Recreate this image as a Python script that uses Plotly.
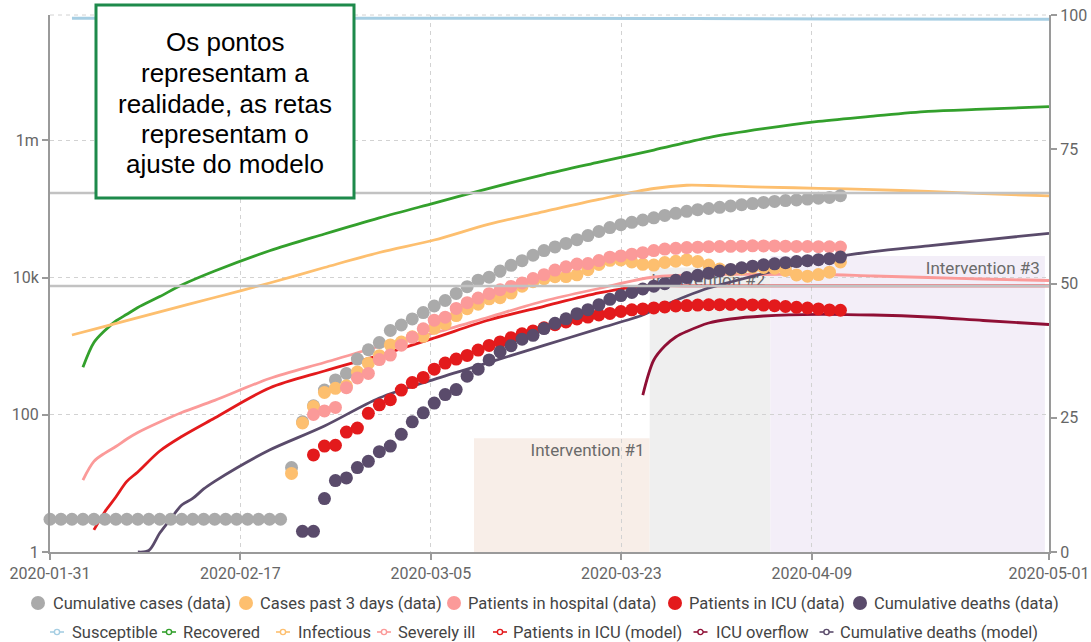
import pandas as pd
import plotly.graph_objects as go

# ---------------------------------------------------------------------------
# Time frame and axis ranges
# ---------------------------------------------------------------------------
X_START = pd.Timestamp("2020-01-31")
X_END = pd.Timestamp("2020-05-01")
LOG_TOP = 7.828          # log10 of the top of the left axis

# x tick labels (evenly spaced ticks, labelled with their calendar day)
tick_days = [0, 17.35, 34.7, 52.05, 69.4, 91]
tick_labels = ["2020-01-31", "2020-02-17", "2020-03-05", "2020-03-23", "2020-04-09", "2020-05-01"]

# ---------------------------------------------------------------------------
# Observed data (daily)
# ---------------------------------------------------------------------------
cases_start = "2020-01-31"
cumulative_cases = [
    3, 3, 3, 3, 3, 3, 3, 3, 3, 3, 3, 3, 3, 3, 3, 3, 3, 3, 3, 3, 3, 3,
    17, 79, 135, 229, 322, 400, 650, 888, 1128, 1694, 2036, 2502, 3089, 3858,
    4636, 5883, 7375, 9172, 10149, 12462, 15113, 17660, 21157, 24747, 27980,
    31506, 35713, 41035, 47021, 53578, 59138, 63927, 69176, 74386, 80539,
    86498, 92472, 97689, 101739, 105792, 110574, 115242, 119827, 124632,
    128948, 132547, 135586, 139422, 143626, 147577, 156363,
]

recent_start = "2020-02-22"
cases_past_3_days = [
    14, 76, 132, 212, 243, 265, 421, 566, 728, 1044, 1148, 1374, 1395, 1822,
    2134, 2794, 3517, 4100, 4900, 5087, 5941, 7511, 8695, 9634, 10320, 10349,
    10966, 13055, 15515, 17865, 18103, 16906, 15598, 15248, 16612, 17322,
    18086, 17150, 15241, 13320, 12885, 13503, 14035, 14058, 13706, 12720,
    10954, 10474, 11079, 11991, 16941,
]

hospital_start = "2020-02-24"
hospital_patients = [
    101, 114, 128, 248, 345, 401, 639, 742, 1034, 1346, 1790, 2394, 2651, 3557,
    4316, 5038, 5838, 6650, 7426, 8372, 9663, 11025, 12894, 14363, 15757,
    16020, 17708, 19846, 20692, 21937, 23112, 24753, 26029, 26676, 27386,
    27795, 28192, 28403, 28540, 28741, 29010, 28949, 28976, 28718, 28485,
    28399, 28242, 28144, 27847,
]

icu_start = "2020-02-24"
icu_patients = [
    26, 35, 36, 56, 64, 105, 140, 166, 229, 295, 351, 462, 567, 650, 733, 877,
    1028, 1153, 1328, 1518, 1672, 1851, 2060, 2257, 2498, 2655, 2857, 3009,
    3204, 3396, 3489, 3612, 3732, 3856, 3906, 3981, 4023, 4035, 4053, 4068,
    3994, 3977, 3898, 3792, 3693, 3605, 3497, 3381, 3343,
]

deaths_start = "2020-02-23"
cumulative_deaths = [
    2, 2, 6, 11, 12, 17, 21, 29, 35, 52, 79, 107, 148, 197, 233, 366, 463, 631,
    827, 1016, 1266, 1441, 1809, 2158, 2503, 2978, 3405, 4032, 4825, 5476,
    6077, 6820, 7503, 8165, 9134, 10023, 10779, 11591, 12428, 13155, 13915,
    14681, 15362, 15887, 16523, 17127, 17669, 18279, 18849, 19899,
]

# ---------------------------------------------------------------------------
# Model trajectories (day offsets from 2020-01-31)
# ---------------------------------------------------------------------------
susceptible_days = [2, 40, 55, 65, 75, 91]
susceptible = [60.4e6, 60.3e6, 60.0e6, 59.4e6, 58.9e6, 58.3e6]

recovered_days = [3, 4, 5, 6, 7, 8, 10, 12, 15, 20, 25, 30, 35, 40, 45, 50, 55, 60, 65, 70, 75, 80, 85, 91]
recovered = [492, 1130, 1694, 2330, 2920, 3660, 5290, 7800, 12480, 24600, 43200, 74200, 122000,
             200000, 317000, 481000, 724000, 1100000, 1480000, 1890000, 2260000, 2650000,
             2850000, 3100000]

infectious_days = [2, 5, 10, 15, 20, 25, 30, 35, 40, 45, 50, 55, 58, 60, 62, 65, 70, 75, 80, 85, 91]
infectious = [1456, 1944, 3172, 5129, 8340, 14030, 23220, 35320, 60250, 91600, 138000, 199000,
              222000, 220000, 215000, 209000, 200000, 192000, 180000, 168000, 155000]

severe_days = [3, 4, 5, 6, 7, 8, 10, 12, 15, 20, 25, 30, 35, 40, 45, 50, 55, 60, 65, 70, 75, 80, 85, 91]
severe = [11.2, 20.9, 27.7, 34.5, 44.4, 55.2, 78.5, 108, 162, 338, 578, 990, 1557, 2666, 4560,
          6935, 10200, 11100, 11100, 11100, 10550, 10030, 9540, 9075]

icu_model_days = [4, 5, 6, 7, 8, 10, 12, 15, 20, 25, 30, 35, 40, 45, 50, 52, 53, 54, 60, 70, 80, 91]
icu_model = [2.1, 3.87, 6.34, 10.7, 14.7, 29.7, 48.3, 89.8, 246, 435, 737, 1318, 2410, 3818,
             5965, 6820, 7200, 7550, 7550, 7550, 7550, 7550]

overflow_days = [54, 55, 56, 57, 58, 60, 62, 65, 70, 75, 80, 85, 91]
icu_overflow = [194, 629, 1007, 1362, 1638, 2178, 2493, 2755, 2917, 2850, 2666, 2370, 2071]

deaths_model_days = [8, 9, 10, 11, 12, 13, 14, 15, 17, 20, 25, 30, 35, 40, 45, 50, 54, 55, 58,
                     60, 62, 65, 70, 75, 80, 85, 91]
deaths_model = [1.0, 1.05, 1.89, 3.05, 4.84, 6.03, 8.3, 10.7, 16.8, 30.7, 68.7, 176, 329, 581,
                1028, 1806, 2850, 3373, 5395, 7050, 8630, 11480, 18360, 23870, 28970, 35230,
                44250]

# Capacity reference lines
hospital_beds = 171000
icu_beds = 7550

# Interventions: period and mitigation strength (right axis, %)
intervention_names = ["Intervention #1", "Intervention #2", "Intervention #3"]
intervention_starts = ["2020-03-09 15:00", "2020-03-25 15:00", "2020-04-05 15:00"]
intervention_ends = ["2020-03-25 15:00", "2020-04-05 15:00", "2020-04-30 15:00"]
intervention_strength = [21.2, 53.0, 55.1]
intervention_colors = ["#f8eee8", "#efefef", "#f3eef8"]

# ---------------------------------------------------------------------------
# Styling
# ---------------------------------------------------------------------------
C_GRAY, C_ORANGE, C_PINK, C_RED, C_DARK = "#aaaaaa", "#fdbf6f", "#fb9a99", "#e31a1c", "#5a4b6b"
C_BLUE, C_GREEN, C_OVERFLOW = "#a6cee3", "#33a02c", "#8f0f35"
AXIS_COLOR, TICK_TEXT, GRID = "#9a9a9a", "#666666", "#d2d2d2"
FONT = "Roboto, sans-serif"

W, H = 1091, 642
M_L, M_R, M_T, M_B = 50, 42, 15, 90
PW, PH = W - M_L - M_R, H - M_T - M_B


def at_day(days):
    return [X_START + pd.to_timedelta(d, unit="D") for d in days]


def daily(start, values):
    return pd.date_range(start, periods=len(values), freq="D")


def px_x(px):
    return (px - M_L) / PW


def px_y(py):
    return (H - M_B - py) / PH


fig = go.Figure()

# Intervention labels go first so every other mark is drawn over them
label_x = [pd.Timestamp(e) - pd.Timedelta(hours=11) for e in intervention_ends]
label_y = [10 ** (LOG_TOP * (s - 2.6) / 100) for s in intervention_strength]
fig.add_trace(go.Scatter(
    x=label_x, y=label_y, mode="text", text=intervention_names,
    textposition="middle left", textfont=dict(family=FONT, size=17, color="#6a6a6a"),
    hoverinfo="skip", showlegend=False,
))

# Model curves
model_lines = [
    ("Susceptible", susceptible_days, susceptible, C_BLUE, 3),
    ("Recovered", recovered_days, recovered, C_GREEN, 2.8),
    ("Infectious", infectious_days, infectious, C_ORANGE, 2.8),
    ("Severely ill", severe_days, severe, C_PINK, 2.8),
    ("Patients in ICU (model)", icu_model_days, icu_model, C_RED, 2.8),
    ("ICU overflow", overflow_days, icu_overflow, C_OVERFLOW, 2.8),
    ("Cumulative deaths (model)", deaths_model_days, deaths_model, C_DARK, 2.8),
]
for name, days, vals, color, width in model_lines:
    fig.add_trace(go.Scatter(
        x=at_day(days), y=vals, mode="lines", name=name,
        line=dict(color=color, width=width, shape="spline", smoothing=0.9),
        showlegend=False,
    ))

# Observed points
observed = [
    ("Cumulative cases (data)", cases_start, cumulative_cases, C_GRAY),
    ("Cases past 3 days (data)", recent_start, cases_past_3_days, C_ORANGE),
    ("Patients in hospital (data)", hospital_start, hospital_patients, C_PINK),
    ("Patients in ICU (data)", icu_start, icu_patients, C_RED),
    ("Cumulative deaths (data)", deaths_start, cumulative_deaths, C_DARK),
]
for name, start, vals, color in observed:
    fig.add_trace(go.Scatter(
        x=daily(start, vals), y=vals, mode="markers", name=name,
        marker=dict(color=color, size=13, line=dict(width=0)),
        cliponaxis=False, showlegend=False,
    ))

# Capacity lines across the whole period
for cap in (hospital_beds, icu_beds):
    fig.add_trace(go.Scatter(
        x=[X_START, X_END], y=[cap, cap], mode="lines",
        line=dict(color="#c2c2c2", width=2.6), hoverinfo="skip", showlegend=False,
    ))

# Anchor trace for the right-hand axis
fig.add_trace(go.Scatter(x=[None], y=[None], yaxis="y2", showlegend=False, hoverinfo="skip"))

shapes = []
for s, e, h, c in zip(intervention_starts, intervention_ends, intervention_strength, intervention_colors):
    shapes.append(dict(type="rect", xref="x", yref="y2", x0=s, x1=e, y0=0, y1=h,
                       fillcolor=c, line=dict(width=0), layer="below"))
# dashed top border of the grid
shapes.append(dict(type="line", xref="paper", yref="paper", x0=0, x1=1, y0=1, y1=1,
                   line=dict(color=GRID, width=1, dash="4px,4px"), layer="below"))

# Note box
shapes.append(dict(type="rect", xref="paper", yref="paper",
                   x0=px_x(96), x1=px_x(354), y0=px_y(198), y1=px_y(5),
                   fillcolor="white", line=dict(color="#1d8a4b", width=3), layer="above"))

annotations = []
note_lines = ["Os pontos", "representam a", "realidade, as retas", "representam o", "ajuste do modelo"]
note_y = [42, 73, 103.5, 134, 164.5]
for txt, yy in zip(note_lines, note_y):
    annotations.append(dict(text=txt, xref="paper", yref="paper", x=px_x(225), y=px_y(yy),
                            xanchor="center", yanchor="middle", showarrow=False,
                            font=dict(family="Liberation Sans, Arial, sans-serif", size=26, color="#000000")))

# Legend, two rows: observed points, then model curves
LEG_FONT = dict(family=FONT, size=16.5, color="#444444")
row1 = [("Cumulative cases (data)", C_GRAY, 38, 51),
        ("Cases past 3 days (data)", C_ORANGE, 246, 258),
        ("Patients in hospital (data)", C_PINK, 454, 466),
        ("Patients in ICU (data)", C_RED, 675, 687),
        ("Cumulative deaths (data)", C_DARK, 860, 872)]
row2 = [("Susceptible", C_BLUE, 57, 70),
        ("Recovered", C_GREEN, 169, 181),
        ("Infectious", C_ORANGE, 283, 296),
        ("Severely ill", C_PINK, 384, 396),
        ("Patients in ICU (model)", C_RED, 500, 511),
        ("ICU overflow", C_OVERFLOW, 700.5, 714),
        ("Cumulative deaths (model)", C_DARK, 826.5, 838)]
ROW1_Y, ROW2_Y = 603, 632

for txt, color, cx, tx in row1:
    shapes.append(dict(type="circle", xref="paper", yref="paper", xsizemode="pixel", ysizemode="pixel",
                       xanchor=px_x(cx), yanchor=px_y(ROW1_Y), x0=-7, x1=7, y0=-7, y1=7,
                       fillcolor=color, line=dict(width=0), layer="above"))
    annotations.append(dict(text=txt, xref="paper", yref="paper", x=px_x(tx), y=px_y(ROW1_Y),
                            xanchor="left", yanchor="middle", showarrow=False, font=LEG_FONT))

for txt, color, cx, tx in row2:
    shapes.append(dict(type="line", xref="paper", yref="paper", xsizemode="pixel", ysizemode="pixel",
                       xanchor=px_x(cx), yanchor=px_y(ROW2_Y), x0=-7, x1=7, y0=0, y1=0,
                       line=dict(color=color, width=1.6), layer="above"))
    shapes.append(dict(type="circle", xref="paper", yref="paper", xsizemode="pixel", ysizemode="pixel",
                       xanchor=px_x(cx), yanchor=px_y(ROW2_Y), x0=-2.6, x1=2.6, y0=-2.6, y1=2.6,
                       fillcolor="white", line=dict(color=color, width=1.4), layer="above"))
    annotations.append(dict(text=txt, xref="paper", yref="paper", x=px_x(tx), y=px_y(ROW2_Y),
                            xanchor="left", yanchor="middle", showarrow=False, font=LEG_FONT))

axis_common = dict(
    showline=True, linecolor=AXIS_COLOR, linewidth=2,
    ticks="outside", ticklen=6, tickwidth=1.5, tickcolor=AXIS_COLOR,
    tickfont=dict(family=FONT, size=16, color=TICK_TEXT),
    zeroline=False,
)

fig.update_layout(
    width=W, height=H,
    margin=dict(l=M_L, r=M_R, t=M_T, b=M_B, autoexpand=False),
    paper_bgcolor="white", plot_bgcolor="white",
    showlegend=False,
    hovermode=False,
    font=dict(family=FONT, color=TICK_TEXT),
    xaxis=dict(type="date", range=[X_START, X_END],
               tickvals=at_day(tick_days), ticktext=tick_labels,
               showgrid=True, gridcolor=GRID, griddash="4px,4px", gridwidth=1,
               **axis_common),
    yaxis=dict(type="log", range=[0, LOG_TOP],
               tickvals=[1, 100, 1e4, 1e6], ticktext=["1", "100", "10k", "1m"],
               showgrid=True, gridcolor=GRID, griddash="4px,4px", gridwidth=1,
               **axis_common),
    yaxis2=dict(overlaying="y", side="right", range=[0, 100],
                tickvals=[0, 25, 50, 75, 100], showgrid=False,
                **axis_common),
    shapes=shapes,
    annotations=annotations,
)

fig.write_html("out.html", config={"displayModeBar": False})
